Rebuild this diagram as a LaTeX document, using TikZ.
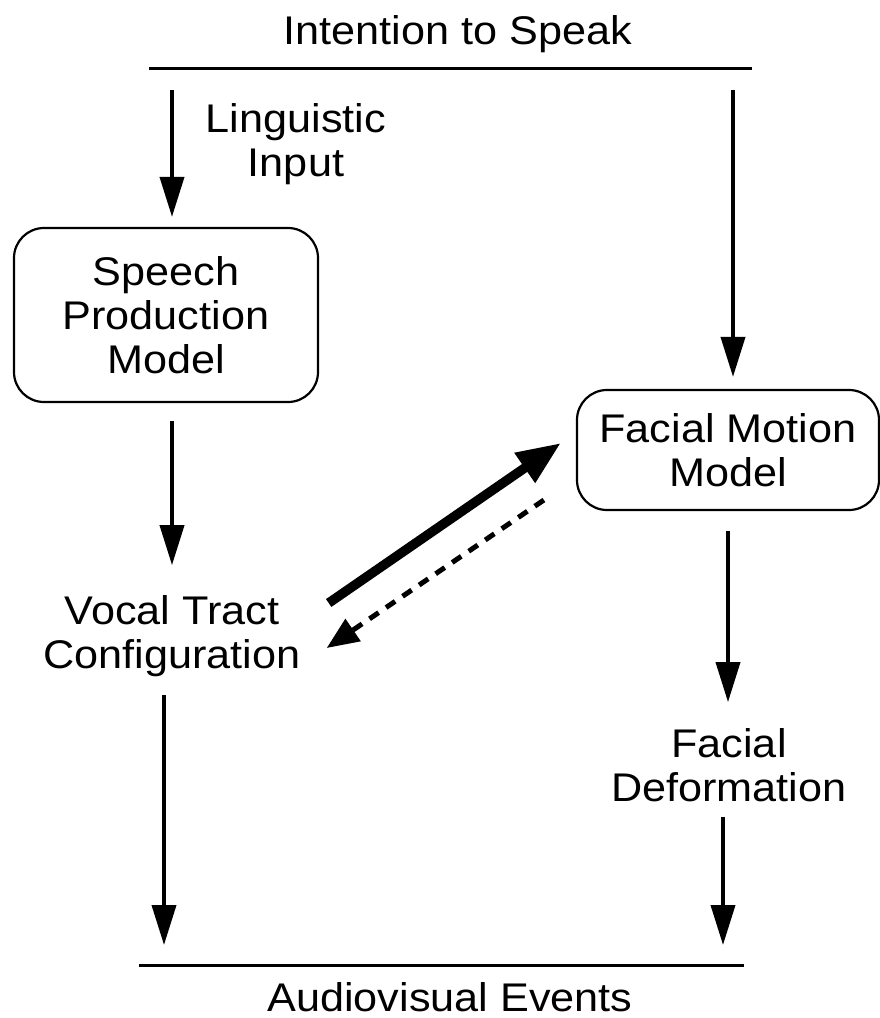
\documentclass[tikz,border=0pt]{standalone}
\usepackage{fontspec}
\setmainfont[FakeStretch=1.08]{Liberation Sans}
\usetikzlibrary{arrows.meta,calc}

\begin{document}
\begin{tikzpicture}[x=1pt,y=-1pt,
  txt/.style={font=\fontsize{40}{44}\selectfont, align=center, inner sep=0pt},
  modelbox/.style={txt, draw, line width=2.2pt, rounded corners=30pt},
  flowarrow/.style={-{Triangle[length=40pt,width=24pt]}, line width=3.8pt},
  fwdarrow/.style={-{Triangle[length=44pt,width=34pt]}, line width=9.5pt},
  backarrow/.style={-{Triangle[length=32pt,width=26pt]}, line width=5pt, dash pattern=on 11pt off 9pt},
  hline/.style={line width=3pt},
]
\useasboundingbox (0,0) rectangle (880,1018);

% top and bottom rules
\draw[hline] (149,68) -- (752,68);
\draw[hline] (139,965) -- (744,965);
\node[txt, anchor=base] (intent) at (458,44) {Intention to Speak};
\node[txt, anchor=base] (events) at (450,1011) {Audiovisual Events};

\node[txt] (ling) at (296,144) {Linguistic\\Input};
\node[modelbox, minimum width=304pt, minimum height=174pt] (spm) at (166,315) {Speech\\Production\\Model};
\node[modelbox, minimum width=302pt, minimum height=120pt] (fmm) at (728,450) {Facial Motion\\Model};
\node[txt] (vtc) at (172,636) {Vocal Tract\\Configuration};
\node[txt] (fdef) at (729,765) {Facial\\Deformation};

\coordinate (inL) at (172,90);
\coordinate (inR) at (733,90);
\coordinate (outL) at (164,945);
\coordinate (outR) at (723,945);

\draw[flowarrow, shorten >=10pt] (inL) -- (inL |- spm.north);
\draw[flowarrow, shorten >=12pt] (inR) -- (inR |- fmm.north);
\draw[flowarrow, shorten <=18pt, shorten >=30pt] (vtc.north |- spm.south) -- (vtc.north);
\draw[flowarrow, shorten <=18pt] (outL |- vtc.south) -- (outL);
\draw[flowarrow, shorten <=20pt, shorten >=26pt] (fmm.south) -- (fmm.south |- fdef.north);
\draw[flowarrow, shorten <=15pt] (outR |- fdef.south) -- (outR);

% coupling between the two models
\draw[fwdarrow] ($(vtc.east)+(28,-33)$) -- ($(fmm.west)+(-15,-7)$);
\draw[backarrow] ($(fmm.west)+(-32,50)$) -- ($(vtc.east)+(26,12)$);
\end{tikzpicture}
\end{document}
